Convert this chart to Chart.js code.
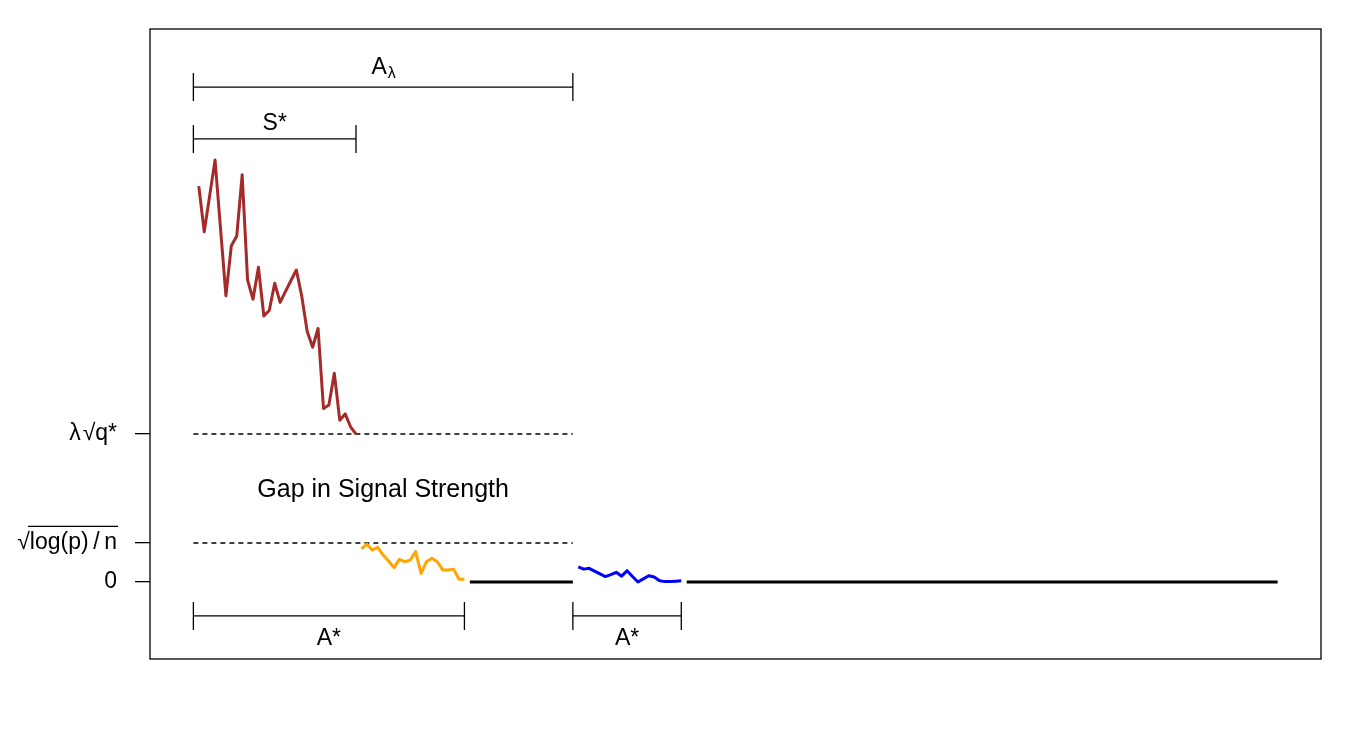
<!DOCTYPE html>
<html>
<head>
<meta charset="utf-8">
<script src="https://cdn.jsdelivr.net/npm/chart.js@4/dist/chart.umd.min.js"></script>
<style>
  html, body { margin: 0; padding: 0; background: #fff; }
  canvas { display: block; }
</style>
</head>
<body>
<canvas id="chart" width="1350" height="750"></canvas>
<script>
// coefficient index axis (1..200) and signal strength values per piece
const brownStart = 1;
const brownValues = [10.15, 8.98, 9.90, 10.82, 9.08, 7.34, 8.62, 8.87, 10.44, 7.74,
                     7.25, 8.07, 6.82, 6.96, 7.66, 7.17, 7.45, 7.73, 8.00, 7.32,
                     6.42, 6.02, 6.50, 4.45, 4.54, 5.35, 4.15, 4.31, 3.98, 3.79];
const orangeStart = 31;
const orangeValues = [0.85, 0.97, 0.82, 0.89, 0.69, 0.54, 0.37, 0.58, 0.52, 0.56,
                      0.78, 0.22, 0.52, 0.61, 0.52, 0.31, 0.31, 0.33, 0.07, 0.07];
const blueStart = 71;
const blueValues = [0.39, 0.33, 0.35, 0.28, 0.21, 0.14, 0.19, 0.25, 0.15, 0.29,
                    0.14, 0.00, 0.08, 0.16, 0.13, 0.03, 0.01, 0.01, 0.02, 0.03];
// zero pieces: [first index, last index]
const zeroPieces = [[51, 70], [91, 200]];

// thresholds
const thrLow = 1.0;    // sqrt(log(p)/n)
const thrHigh = 3.795; // lambda sqrt(q*)
const thrFrom = 0, thrTo = 70;

const yTickValues = [0, thrLow, thrHigh];
const yTickLabels = ['0', '√log(p)\u2009/\u2009n', 'λ\u200a√q*'];

// brackets: range on index axis, level, label
const brackets = [
  { from: 0,  to: 70, y: 12.69, text: 'A', sub: 'λ', textY: 13.2 },
  { from: 0,  to: 30, y: 11.36, text: 'S*', textY: 11.75 },
  { from: 0,  to: 50, y: -0.87, text: 'A*', textY: -1.46 },
  { from: 70, to: 90, y: -0.87, text: 'A*', textY: -1.46 }
];
const gapText = { text: 'Gap in Signal Strength', x: 35, y: 2.36 };

const FONT = '"Liberation Sans", Arial, Helvetica, sans-serif';
const FONT_SIZE = 23;

function toPoints(start, values) {
  return values.map((v, i) => ({ x: start + i, y: v }));
}

const lineStyle = {
  pointRadius: 0, tension: 0, borderWidth: 3, fill: false,
  borderJoinStyle: 'round', borderCapStyle: 'butt'
};

const datasets = [
  Object.assign({ data: toPoints(brownStart, brownValues), borderColor: '#a52a2a' }, lineStyle),
  Object.assign({ data: toPoints(orangeStart, orangeValues), borderColor: '#ffa500' }, lineStyle),
  Object.assign({ data: toPoints(blueStart, blueValues), borderColor: '#0000ff' }, lineStyle)
];
zeroPieces.forEach(p => {
  datasets.push(Object.assign({ data: [{ x: p[0], y: 0 }, { x: p[1], y: 0 }], borderColor: '#000' }, lineStyle));
});
[thrLow, thrHigh].forEach(t => {
  datasets.push({
    data: [{ x: thrFrom, y: t }, { x: thrTo, y: t }],
    borderColor: '#000', borderWidth: 1.3, borderDash: [5, 4], pointRadius: 0, fill: false
  });
});

// brackets, text and frame
const annotate = {
  id: 'annotate',
  afterDraw(chart) {
    const ctx = chart.ctx;
    const xs = chart.scales.x, ys = chart.scales.y;
    const area = chart.chartArea;
    ctx.save();
    ctx.strokeStyle = '#000';
    ctx.fillStyle = '#000';
    ctx.lineWidth = 1.3;

    brackets.forEach(b => {
      const x0 = xs.getPixelForValue(b.from), x1 = xs.getPixelForValue(b.to);
      const y = ys.getPixelForValue(b.y);
      ctx.beginPath();
      ctx.moveTo(x0, y); ctx.lineTo(x1, y);
      ctx.moveTo(x0, y - 14); ctx.lineTo(x0, y + 14);
      ctx.moveTo(x1, y - 14); ctx.lineTo(x1, y + 14);
      ctx.stroke();

      const cx = (x0 + x1) / 2, ty = ys.getPixelForValue(b.textY);
      ctx.textBaseline = 'middle';
      ctx.font = FONT_SIZE + 'px ' + FONT;
      if (b.sub) {
        const w1 = ctx.measureText(b.text).width;
        ctx.font = Math.round(FONT_SIZE * 0.7) + 'px ' + FONT;
        const w2 = ctx.measureText(b.sub).width;
        const left = cx - (w1 + w2) / 2;
        ctx.textAlign = 'left';
        ctx.font = FONT_SIZE + 'px ' + FONT;
        ctx.fillText(b.text, left, ty);
        ctx.font = Math.round(FONT_SIZE * 0.7) + 'px ' + FONT;
        ctx.fillText(b.sub, left + w1 + 1, ty + 6);
      } else {
        ctx.textAlign = 'center';
        ctx.fillText(b.text, cx, ty);
      }
    });

    ctx.font = '25px ' + FONT;
    ctx.textAlign = 'center';
    ctx.textBaseline = 'middle';
    ctx.fillText(gapText.text, xs.getPixelForValue(gapText.x), ys.getPixelForValue(gapText.y));

    // radical bar over log(p)/n
    ctx.font = FONT_SIZE + 'px ' + FONT;
    const right = ys.right - ys.options.grid.tickLength - ys.options.ticks.padding;
    const lbl = yTickLabels[1];
    const wAll = ctx.measureText(lbl).width;
    const wRad = ctx.measureText('√').width;
    const yb = ys.getPixelForValue(thrLow) - FONT_SIZE * 0.72;
    ctx.beginPath();
    ctx.moveTo(right - wAll + wRad * 0.85, yb);
    ctx.lineTo(right + 1, yb);
    ctx.stroke();

    // frame
    ctx.strokeRect(area.left, area.top, area.right - area.left, area.bottom - area.top);
    ctx.restore();
  }
};

new Chart(document.getElementById('chart'), {
  type: 'line',
  data: { datasets: datasets },
  options: {
    responsive: false,
    animation: false,
    layout: { padding: { left: 0, right: 29, top: 29, bottom: 91 } },
    plugins: { legend: { display: false }, tooltip: { enabled: false } },
    scales: {
      x: { type: 'linear', min: -8, max: 208, display: false },
      y: {
        type: 'linear', min: -1.974, max: 14.179,
        afterBuildTicks: s => { s.ticks = yTickValues.map(v => ({ value: v })); },
        afterFit: s => { s.width = 150; s.paddingTop = 0; s.paddingBottom = 0; },
        border: { display: false },
        grid: { drawOnChartArea: false, drawTicks: true, tickLength: 15, color: '#000', lineWidth: 1.3 },
        ticks: {
          padding: 18, color: '#000',
          font: { family: FONT, size: FONT_SIZE },
          callback: (v, i) => yTickLabels[i]
        }
      }
    }
  },
  plugins: [annotate]
});
</script>
</body>
</html>
